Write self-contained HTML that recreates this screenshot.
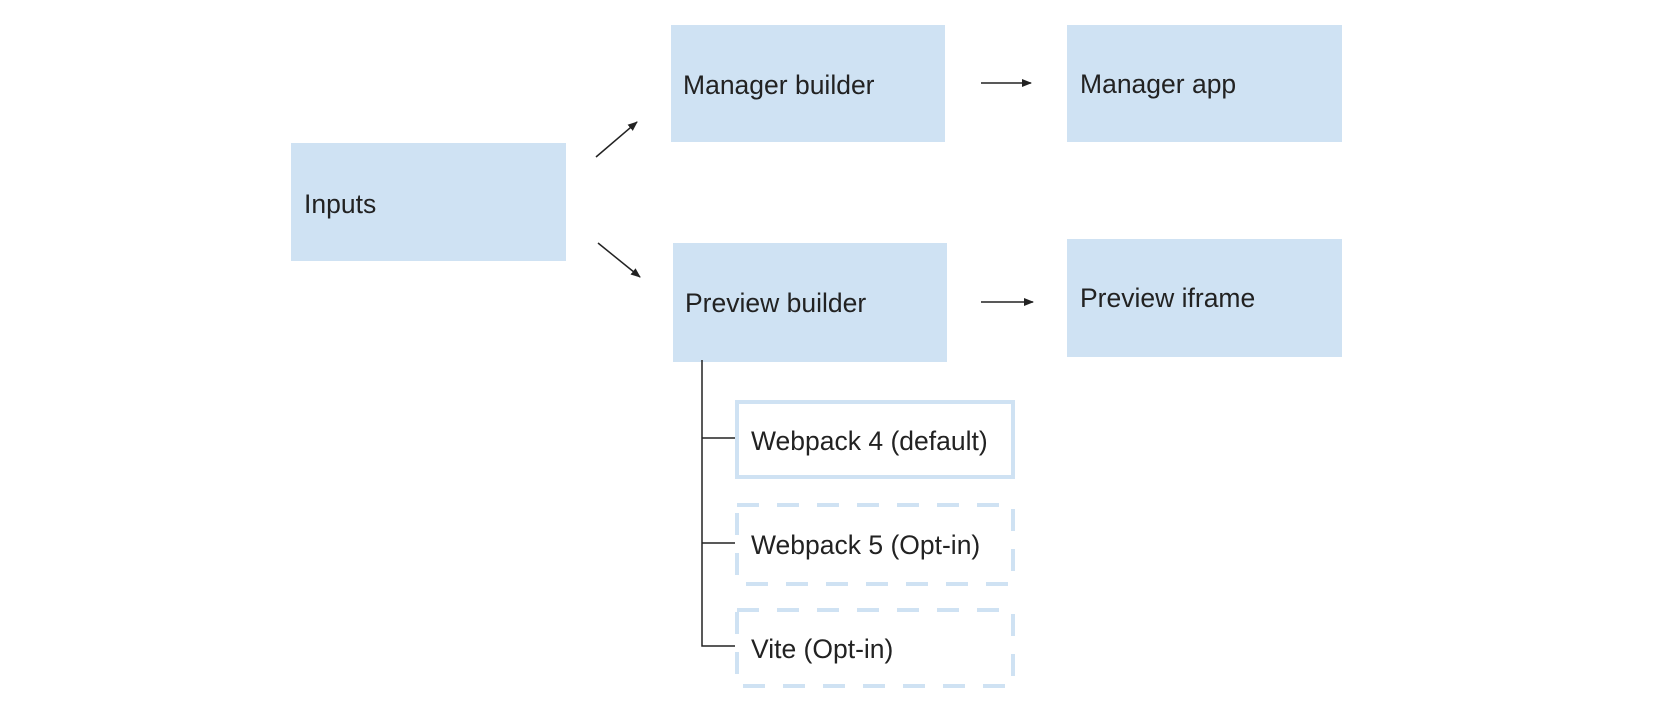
<!DOCTYPE html>
<html><head><meta charset="utf-8"><style>
html,body{margin:0;padding:0;background:#fff;}
svg text{font-family:"Liberation Sans",Arial,sans-serif;font-size:26.5px;fill:#222;dominant-baseline:central;}
</style></head><body>
<svg width="1680" height="710" viewBox="0 0 1680 710" xmlns="http://www.w3.org/2000/svg">
<defs><marker id="a" markerWidth="10" markerHeight="8" refX="9" refY="4" orient="auto" markerUnits="userSpaceOnUse"><path d="M0,0 L10,4 L0,8 z" fill="#222"/></marker></defs>
<rect x="291" y="143" width="275" height="118" fill="#cfe2f3"/>
<rect x="671" y="25" width="274" height="117" fill="#cfe2f3"/>
<rect x="673" y="243" width="274" height="119" fill="#cfe2f3"/>
<rect x="1067" y="25" width="275" height="117" fill="#cfe2f3"/>
<rect x="1067" y="239" width="275" height="118" fill="#cfe2f3"/>
<text x="304" y="204">Inputs</text>
<text x="683" y="85">Manager builder</text>
<text x="685" y="303">Preview builder</text>
<text x="1080" y="84">Manager app</text>
<text x="1080" y="298">Preview iframe</text>
<line x1="596" y1="157" x2="637" y2="122" stroke="#222" stroke-width="1.5" marker-end="url(#a)"/>
<line x1="598" y1="243" x2="640" y2="277" stroke="#222" stroke-width="1.5" marker-end="url(#a)"/>
<line x1="981" y1="83" x2="1031" y2="83" stroke="#222" stroke-width="1.5" marker-end="url(#a)"/>
<line x1="981" y1="302" x2="1033" y2="302" stroke="#222" stroke-width="1.5" marker-end="url(#a)"/>
<path d="M702,360 V646 H735 M702,438 H735 M702,543 H735" fill="none" stroke="#222" stroke-width="1.5"/>
<rect x="737" y="402" width="276" height="75" fill="none" stroke="#cfe2f3" stroke-width="4"/>
<rect x="737" y="505" width="276" height="79" fill="none" stroke="#cfe2f3" stroke-width="4" stroke-dasharray="22,18"/>
<rect x="737" y="610" width="276" height="76" fill="none" stroke="#cfe2f3" stroke-width="4" stroke-dasharray="22,18"/>
<text x="751" y="441">Webpack 4 (default)</text>
<text x="751" y="545">Webpack 5 (Opt-in)</text>
<text x="751" y="649">Vite (Opt-in)</text>
</svg>
</body></html>
